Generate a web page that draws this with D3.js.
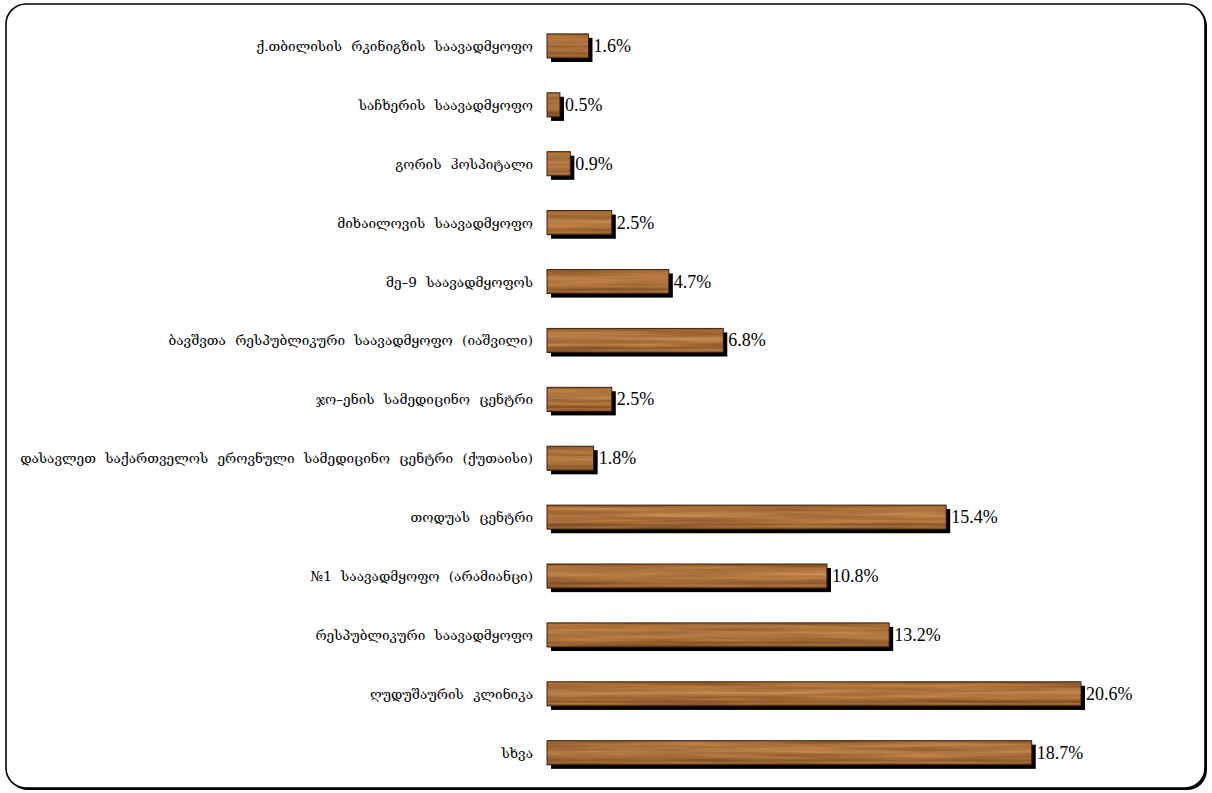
<!DOCTYPE html>
<html><head><meta charset="utf-8">
<script src="https://cdn.jsdelivr.net/npm/d3@7"></script>
<style>
html,body{margin:0;padding:0;background:#fff;}
svg{display:block;}
</style></head>
<body>
<svg id="chart" width="1212" height="793"></svg>
<script>
const categories = [
  "ქ.თბილისის რკინიგზის საავადმყოფო",
  "საჩხერის საავადმყოფო",
  "გორის ჰოსპიტალი",
  "მიხაილოვის საავადმყოფო",
  "მე–9 საავადმყოფოს",
  "ბავშვთა რესპუბლიკური საავადმყოფო (იაშვილი)",
  "ჯო–ენის სამედიცინო ცენტრი",
  "დასავლეთ საქართველოს ეროვნული სამედიცინო ცენტრი (ქუთაისი)",
  "თოდუას ცენტრი",
  "№1 საავადმყოფო (არამიანცი)",
  "რესპუბლიკური საავადმყოფო",
  "ღუდუშაურის კლინიკა",
  "სხვა"
];
const values = [1.6, 0.5, 0.9, 2.5, 4.7, 6.8, 2.5, 1.8, 15.4, 10.8, 13.2, 20.6, 18.7];
const valueLabels = ["1.6%","0.5%","0.9%","2.5%","4.7%","6.8%","2.5%","1.8%","15.4%","10.8%","13.2%","20.6%","18.7%"];

const svg = d3.select("#chart");
const defs = svg.append("defs");

// wood texture filter
const f = defs.append("filter").attr("id","wood")
  .attr("x",0).attr("y",0).attr("width","100%").attr("height","100%")
  .attr("filterUnits","objectBoundingBox")
  .attr("color-interpolation-filters","sRGB");
f.append("feTurbulence").attr("type","fractalNoise")
  .attr("baseFrequency","0.008 0.25").attr("numOctaves",3).attr("seed",7).attr("result","noise");
f.append("feColorMatrix").attr("in","noise").attr("type","matrix")
  .attr("values","0.32 0 0 0 0.52  0.26 0 0 0 0.31  0.17 0 0 0 0.14  0 0 0 0 1").attr("result","col");
f.append("feComposite").attr("in","col").attr("in2","SourceAlpha").attr("operator","in");

const g = defs.append("linearGradient").attr("id","shade").attr("x1",0).attr("y1",0).attr("x2",0).attr("y2",1);
[[0,"#3a200a",0.3],[0.12,"#3a200a",0.0],[0.45,"#fff0d8",0.1],[0.7,"#3a200a",0.0],[0.82,"#3a200a",0.3],[0.9,"#3a200a",0.08],[1,"#2a1505",0.45]]
  .forEach(s=>g.append("stop").attr("offset",s[0]).attr("stop-color",s[1]).attr("stop-opacity",s[2]));

// frame
svg.append("rect").attr("x",8).attr("y",6).attr("width",1199).attr("height",784).attr("rx",20).attr("fill","#000");
svg.append("rect").attr("x",6).attr("y",4).attr("width",1199).attr("height",784).attr("rx",20)
  .attr("fill","#fff").attr("stroke","#000").attr("stroke-width",1.6);

const x = d3.scaleLinear().domain([0, 20.6]).range([547, 1081]);
const y = d3.scaleBand().domain(categories).range([16.5, 782.2]).paddingInner(0.59).paddingOuter(0.295);

const rows = svg.append("g").selectAll("g").data(categories).join("g");

// shadow
rows.append("rect")
  .attr("x", d=>x(0)+4).attr("y", d=>y(d)+4)
  .attr("width", (d,i)=>x(values[i])-x(0)).attr("height", y.bandwidth())
  .attr("fill","#000");
// wood
rows.append("rect")
  .attr("x", x(0)).attr("y", d=>y(d))
  .attr("width", (d,i)=>x(values[i])-x(0)).attr("height", y.bandwidth())
  .attr("fill","#a06a3a").attr("filter","url(#wood)");
rows.append("rect")
  .attr("x", x(0)).attr("y", d=>y(d))
  .attr("width", (d,i)=>x(values[i])-x(0)).attr("height", y.bandwidth())
  .attr("fill","url(#shade)").attr("stroke","#2e1a08").attr("stroke-width",0.9);

// category labels
rows.append("text")
  .attr("x", 533).attr("y", d=>y(d)+y.bandwidth()/2)
  .attr("text-anchor","end").attr("dominant-baseline","central")
  .style("font-family","'DejaVu Serif', 'DejaVu Sans', serif").style("font-size","13.6px")
  .style("word-spacing","5px").attr("fill","#000")
  .text(d=>d);

// value labels
rows.append("text")
  .attr("x", (d,i)=>x(values[i])+5).attr("y", d=>y(d)+y.bandwidth()/2)
  .attr("dominant-baseline","central")
  .style("font-family","'Liberation Serif', 'Times New Roman', serif").style("font-size","18px").attr("fill","#000")
  .text((d,i)=>valueLabels[i]);
</script>
</body></html>
